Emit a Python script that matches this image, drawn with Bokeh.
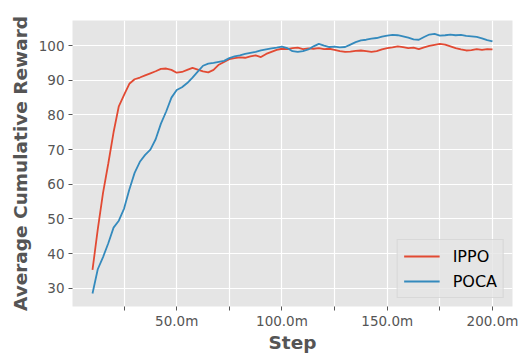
from bokeh.plotting import figure
from bokeh.models import FixedTicker, Range1d, Legend, LegendItem
from bokeh.embed import file_html
from bokeh.resources import INLINE

steps = [10 + 2.5 * i for i in range(77)]

ippo = [35.3, 47.0, 57.5, 66.0, 75.0, 82.5, 85.8, 89.0, 90.3, 90.8,
        91.4, 92.0, 92.6, 93.3, 93.4, 93.0, 92.2, 92.4, 93.0, 93.6,
        93.1, 92.6, 92.3, 93.0, 94.5, 95.3, 96.1, 96.4, 96.6, 96.5,
        96.9, 97.2, 96.7, 97.6, 98.2, 98.8, 99.1, 99.0, 99.3, 99.4,
        99.0, 99.2, 99.1, 99.3, 99.0, 99.1, 98.8, 98.4, 98.2, 98.3,
        98.5, 98.6, 98.4, 98.2, 98.4, 98.9, 99.3, 99.5, 99.8, 99.6,
        99.3, 99.4, 99.0, 99.5, 99.9, 100.2, 100.5, 100.3, 99.8, 99.3,
        98.9, 98.6, 98.7, 99.0, 98.8, 99.0, 98.9]

poca = [28.5, 35.5, 39.0, 43.0, 47.5, 49.5, 53.0, 58.5, 63.3, 66.5,
        68.5, 70.0, 73.0, 77.5, 81.0, 85.0, 87.2, 88.0, 89.2, 90.8,
        92.5, 94.2, 94.8, 95.0, 95.3, 95.6, 96.4, 96.9, 97.2, 97.6,
        97.9, 98.2, 98.6, 98.9, 99.2, 99.4, 99.7, 99.3, 98.4, 98.2,
        98.4, 98.9, 99.8, 100.5, 100.0, 99.6, 99.7, 99.5, 99.6, 100.3,
        101.0, 101.5, 101.7, 102.0, 102.2, 102.6, 102.9, 103.1, 103.0, 102.7,
        102.3, 101.8, 101.7, 102.5, 103.2, 103.4, 102.9, 103.0, 103.2, 103.0,
        103.1, 102.8, 102.7, 102.5, 102.1, 101.6, 101.2]

x_ticks = [25, 50, 75, 100, 125, 150, 175, 200]
x_tick_labels = ["", "50.0m", "", "100.0m", "", "150.0m", "", "200.0m"]
y_ticks = [30, 40, 50, 60, 70, 80, 90, 100]

series_names = ["IPPO", "POCA"]
colors = ["#E24A33", "#348ABD"]

p = figure(width=524, height=355, output_backend="svg", toolbar_location=None,
           x_range=Range1d(0.5, 209.5), y_range=Range1d(24.75, 107.25),
           min_border_left=72, min_border_right=12, min_border_top=20,
           min_border_bottom=48)

p.background_fill_color = "#E5E5E5"
p.border_fill_color = "white"
p.outline_line_color = None

r1 = p.line(steps, ippo, line_color=colors[0], line_width=1.8)
r2 = p.line(steps, poca, line_color=colors[1], line_width=1.8)

for ax in (p.xaxis[0], p.yaxis[0]):
    ax.axis_line_color = None
    ax.major_tick_line_color = "#555555"
    ax.major_tick_out = 4
    ax.major_tick_in = 0
    ax.minor_tick_line_color = None
    ax.major_label_text_color = "#555555"
    ax.major_label_text_font = "DejaVu Sans"
    ax.major_label_text_font_size = "13.5px"
    ax.axis_label_text_color = "#555555"
    ax.axis_label_text_font = "DejaVu Sans"
    ax.axis_label_text_font_style = "bold"
    ax.axis_label_text_font_size = "18.5px"

p.xaxis[0].ticker = FixedTicker(ticks=x_ticks)
p.xaxis[0].major_label_overrides = {t: l for t, l in zip(x_ticks, x_tick_labels)}
p.xaxis[0].major_label_standoff = 2
p.xaxis[0].axis_label = "Step"
p.xaxis[0].axis_label_standoff = 0

p.yaxis[0].ticker = FixedTicker(ticks=y_ticks)
p.yaxis[0].major_label_standoff = 4
p.yaxis[0].axis_label = "Average Cumulative Reward"
p.yaxis[0].axis_label_standoff = 5

p.xgrid[0].ticker = FixedTicker(ticks=x_ticks)
p.ygrid[0].ticker = FixedTicker(ticks=y_ticks)
for g in (p.xgrid[0], p.ygrid[0]):
    g.grid_line_color = "white"
    g.grid_line_width = 1.2

legend = Legend(items=[LegendItem(label=series_names[0], renderers=[r1]),
                       LegendItem(label=series_names[1], renderers=[r2])],
                location="bottom_right")
legend.label_text_font = "DejaVu Sans"
legend.label_text_font_size = "16px"
legend.label_text_color = "black"
legend.background_fill_color = "#E5E5E5"
legend.background_fill_alpha = 0.8
legend.border_line_color = "#CCCCCC"
legend.border_line_width = 1
legend.glyph_width = 36
legend.glyph_height = 20
legend.label_height = 20
legend.label_standoff = 13
legend.spacing = 5
legend.padding = 6
legend.margin = 8
p.add_layout(legend, "center")

open("out.html", "w").write(file_html(p, INLINE))
